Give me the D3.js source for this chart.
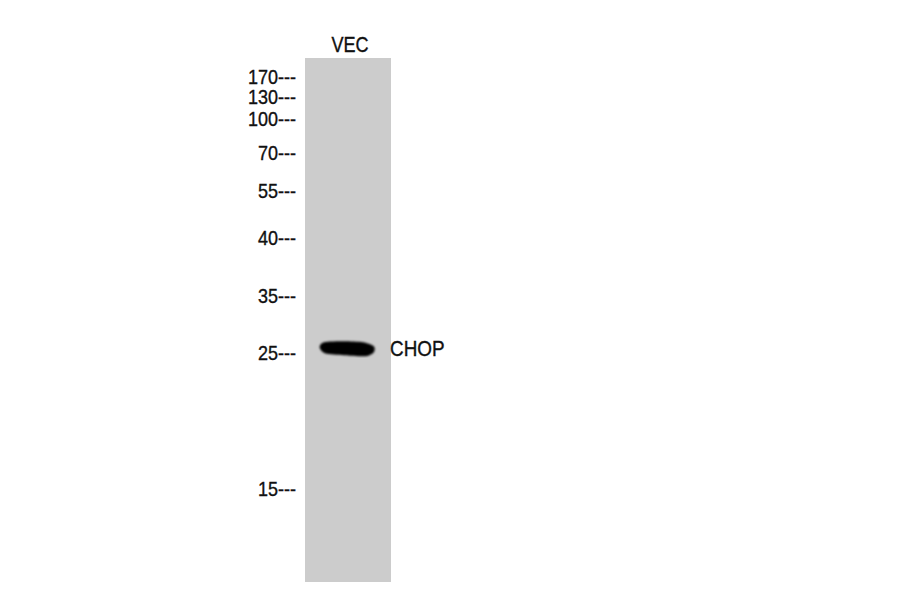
<!DOCTYPE html>
<html>
<head>
<meta charset="utf-8">
<script src="https://cdn.jsdelivr.net/npm/d3@7"></script>
<style>
  body { margin: 0; background: #fff; }
  text { font-family: "Liberation Sans", Arial, sans-serif; fill: #111; stroke: #111; stroke-width: 0.35px; }
</style>
</head>
<body>
<svg id="blot"></svg>
<script>
// lanes and markers
var lanes = ["VEC"];
var markerKDa = [170, 130, 100, 70, 55, 40, 35, 25, 15];
// relative migration (fraction of gel length)
var markerRf = [0.038, 0.075, 0.118, 0.182, 0.254, 0.344, 0.455, 0.564, 0.824];
// detected bands
var bandLane = ["VEC"];
var bandKDa = [25.8];
var bandName = ["CHOP"];
var bandStrength = [1];

var screen = { width: 900, height: 594 };
var gel = { left: 305, right: 391, top: 58, bottom: 582 };

var svg = d3.select("#blot").attr("width", screen.width).attr("height", screen.height);

var defs = svg.append("defs");
defs.append("filter").attr("id", "soft")
  .append("feGaussianBlur").attr("stdDeviation", 0.9);

var laneScale = d3.scaleBand().domain(lanes).range([gel.left, gel.right]).padding(0);

// kDa -> Rf (piecewise log), Rf -> pixel
var rfScale = d3.scaleLog().domain(markerKDa).range(markerRf);
var yScale = d3.scaleLinear().domain([0, 1]).range([gel.top, gel.bottom]);
var y = function (kda) { return yScale(rfScale(kda)); };

// lane background
svg.append("g").selectAll("rect")
  .data(lanes).enter().append("rect")
  .attr("x", function (d) { return laneScale(d); })
  .attr("y", gel.top)
  .attr("width", laneScale.bandwidth())
  .attr("height", gel.bottom - gel.top)
  .style("fill", "#cccccc");

// lane labels
svg.append("g").selectAll("g")
  .data(lanes).enter().append("g")
  .attr("transform", function (d) {
    return "translate(" + (laneScale(d) + laneScale.bandwidth() / 2 + 2) + ",52) scale(0.86,1.02)";
  })
  .append("text")
  .attr("text-anchor", "middle")
  .style("font-size", "21px")
  .text(function (d) { return d; });

// marker labels
svg.append("g").selectAll("g")
  .data(markerKDa).enter().append("g")
  .attr("transform", function (d) {
    return "translate(" + (gel.left - 9) + "," + (y(d) + 6.5) + ") scale(0.9,1)";
  })
  .append("text")
  .attr("text-anchor", "end")
  .style("font-size", "20px")
  .text(function (d) { return d + "---"; });

// bands
var bands = bandKDa.map(function (k, i) {
  return { lane: bandLane[i], kda: k, name: bandName[i], s: bandStrength[i] };
});

var blob = d3.line().curve(d3.curveCardinalClosed.tension(0.2));

var bg = svg.append("g").selectAll("g").data(bands).enter().append("g");

bg.append("path")
  .attr("d", function (d) {
    var w = laneScale.bandwidth();
    var x0 = laneScale(d.lane) + w * 0.17;
    var x1 = laneScale(d.lane) + w * 0.8;
    var cy = y(d.kda);
    var len = x1 - x0;
    return blob([
      [x0, cy - 1],
      [x0 + len * 0.08, cy - 6],
      [x0 + len * 0.45, cy - 7],
      [x0 + len * 0.8, cy - 6],
      [x1, cy - 2],
      [x1, cy + 4],
      [x0 + len * 0.85, cy + 8],
      [x0 + len * 0.45, cy + 7],
      [x0 + len * 0.1, cy + 5]
    ]);
  })
  .style("fill", "#050505")
  .style("opacity", function (d) { return d.s; })
  .attr("filter", "url(#soft)");

bg.append("g")
  .attr("transform", function (d) {
    return "translate(" + (gel.right - 1) + "," + (y(d.kda) + 8) + ") scale(0.9,1.02)";
  })
  .append("text")
  .style("font-size", "21px")
  .text(function (d) { return d.name; });
</script>
</body>
</html>
